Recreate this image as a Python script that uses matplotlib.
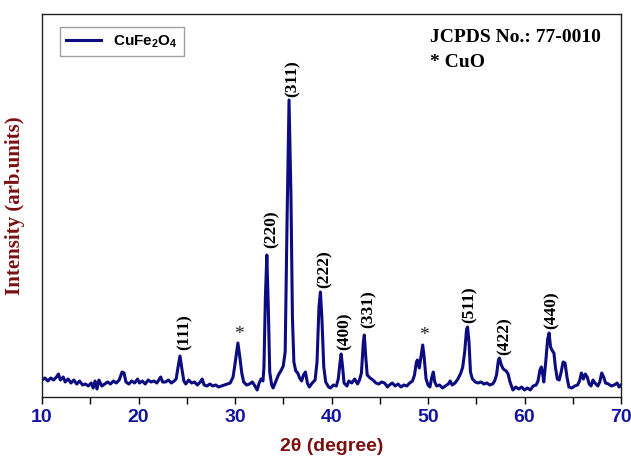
import numpy as np
import matplotlib
matplotlib.use("Agg")
import matplotlib.pyplot as plt

plt.rcParams["mathtext.fontset"] = "custom"
plt.rcParams["mathtext.bf"] = "Liberation Sans:bold"
plt.rcParams["mathtext.rm"] = "Liberation Sans:bold"

# XRD pattern (2theta in degree, intensity in arb. units)
two_theta = [
    10.0, 10.3, 10.6, 10.9, 11.2, 11.5, 11.7, 11.9, 12.2, 12.4, 12.7, 13.0, 13.3, 13.6,
    13.9, 14.2, 14.5, 14.8, 15.1, 15.3, 15.5, 15.7, 15.9, 16.2, 16.5, 16.8, 17.1, 17.4,
    17.7, 18.0, 18.3, 18.5, 18.7, 19.0, 19.3, 19.6, 19.9, 20.1, 20.4, 20.7, 21.0, 21.3,
    21.6, 21.9, 22.1, 22.3, 22.5, 22.8, 23.1, 23.4, 23.7, 23.9, 24.1, 24.3, 24.5, 24.7,
    24.9, 25.2, 25.5, 25.8, 26.1, 26.4, 26.6, 26.8, 27.1, 27.4, 27.7, 28.0, 28.3, 28.6,
    28.9, 29.2, 29.5, 29.8, 30.0, 30.3, 30.5, 30.7, 30.9, 31.2, 31.5, 31.8, 32.0, 32.3,
    32.5, 32.7, 32.9, 33.0, 33.15, 33.3, 33.45, 33.6, 33.8, 33.95, 34.2, 34.5, 34.8, 35.0,
    35.2, 35.4, 35.6, 35.8, 35.95, 36.1, 36.3, 36.5, 36.7, 36.9, 37.1, 37.3, 37.5, 37.7,
    38.0, 38.3, 38.5, 38.7, 38.85, 39.0, 39.2, 39.4, 39.7, 39.9, 40.2, 40.5, 40.7, 40.9,
    41.0, 41.15, 41.3, 41.6, 41.8, 42.1, 42.4, 42.7, 42.9, 43.1, 43.3, 43.4, 43.55, 43.7,
    44.0, 44.3, 44.6, 44.9, 45.2, 45.5, 45.8, 46.0, 46.3, 46.6, 46.9, 47.2, 47.5, 47.8,
    48.1, 48.4, 48.6, 48.8, 48.9, 49.1, 49.3, 49.45, 49.6, 49.8, 50.0, 50.2, 50.4, 50.55,
    50.7, 50.9, 51.2, 51.5, 51.8, 52.1, 52.3, 52.5, 52.8, 53.1, 53.4, 53.6, 53.8, 54.0,
    54.1, 54.25, 54.4, 54.6, 54.9, 55.2, 55.5, 55.8, 56.1, 56.4, 56.7, 56.9, 57.1, 57.3,
    57.4, 57.6, 57.8, 58.1, 58.3, 58.5, 58.8, 59.1, 59.4, 59.7, 60.0, 60.3, 60.6, 60.9,
    61.2, 61.4, 61.6, 61.75, 61.9, 62.0, 62.2, 62.4, 62.55, 62.7, 62.9, 63.05, 63.2, 63.4,
    63.6, 63.8, 64.0, 64.2, 64.4, 64.6, 64.9, 65.2, 65.5, 65.7, 65.9, 66.1, 66.3, 66.5,
    66.7, 66.9, 67.1, 67.3, 67.6, 67.8, 68.0, 68.2, 68.4, 68.7, 69.0, 69.3, 69.6, 69.8,
    70.0,
]
intensity = [
    17, 19, 16, 19, 17, 20, 23, 17, 20, 15, 18, 14, 17, 13,
    16, 12, 13, 11, 14, 9, 16, 8, 17, 11, 13, 15, 13, 16,
    14, 17, 25, 24, 15, 13, 16, 14, 18, 14, 16, 13, 17, 15,
    16, 14, 17, 20, 15, 15, 17, 14, 16, 18, 30, 41, 28, 16,
    13, 17, 14, 15, 12, 15, 18, 12, 11, 13, 11, 12, 10, 11,
    12, 13, 14, 20, 33, 54, 40, 24, 15, 12, 13, 15, 12, 7,
    14, 18, 16, 30, 100, 142, 90, 25, 12, 9, 15, 22, 27, 31,
    45, 180, 297, 200, 80, 35, 26, 24, 19, 16, 22, 25, 14, 10,
    14, 17, 35, 90, 105, 80, 30, 15, 10, 9, 12, 11, 18, 36,
    43, 30, 14, 11, 16, 14, 18, 13, 17, 24, 55, 62, 40, 22,
    19, 17, 14, 13, 15, 14, 10, 12, 14, 11, 13, 10, 12, 11,
    14, 16, 22, 35, 37, 29, 42, 52, 40, 18, 12, 10, 20, 25,
    15, 11, 12, 9, 11, 13, 16, 12, 14, 18, 24, 30, 45, 68,
    70, 55, 25, 18, 15, 14, 15, 13, 14, 12, 13, 16, 22, 37,
    39, 32, 28, 26, 23, 15, 7, 10, 8, 10, 7, 9, 7, 11,
    12, 16, 27, 30, 22, 15, 35, 58, 64, 50, 46, 44, 30, 18,
    17, 25, 35, 34, 20, 10, 9, 11, 12, 16, 24, 18, 23, 20,
    13, 11, 17, 14, 11, 15, 24, 20, 14, 13, 11, 12, 14, 10,
    12,
]

# peak labels: (2theta, height of label bottom, text)
peak_pos = [24.8, 33.8, 36.0, 39.3, 41.4, 43.8, 54.3, 57.9, 62.85]
peak_lab_y = [47, 149, 300, 109, 47, 69, 74, 42, 68]
peak_hkl = ["(111)", "(220)", "(311)", "(222)", "(400)", "(331)", "(511)", "(422)", "(440)"]
cuo_pos = [30.4, 49.6]
cuo_y = [54, 53]

line_col = "#0c0c80"
tick_col = "#1414a0"
lab_col = "#7a1010"
serif = "Liberation Serif"
sans = "Liberation Sans"

fig = plt.figure(figsize=(6.31, 4.59), dpi=100)
ax = fig.add_axes([42 / 631, 62 / 459, 579 / 631, 383 / 459])

ax.plot(two_theta, intensity, color=line_col, lw=2.2, label=r"CuFe$_\mathbf{2}$O$_\mathbf{4}$")

for xp, yp, t in zip(peak_pos, peak_lab_y, peak_hkl):
    ax.text(xp, yp, t, rotation=90, ha="center", va="bottom",
            family=serif, fontweight="bold", fontsize=12.5, color="black")
for xp, yp in zip(cuo_pos, cuo_y):
    ax.text(xp, yp, "*", ha="center", va="bottom", family=serif,
            fontsize=14, color="#222222")

ax.text(0.67, 0.927, "JCPDS No.: 77-0010", transform=ax.transAxes,
        family=serif, fontweight="bold", fontsize=14, va="baseline")
ax.text(0.67, 0.862, "* CuO", transform=ax.transAxes,
        family=serif, fontweight="bold", fontsize=14, va="baseline")

ax.set_xlim(10, 70)
ax.set_ylim(0, 383)
ax.set_xticks([10, 20, 30, 40, 50, 60, 70])
ax.set_xticks([15, 25, 35, 45, 55, 65], minor=True)
ax.set_yticks([])
ax.tick_params(axis="x", which="both", direction="out", length=5, width=1, pad=4)
for lbl in ax.get_xticklabels():
    lbl.set_family(sans)
    lbl.set_fontweight("bold")
    lbl.set_fontsize(14)
    lbl.set_color(tick_col)

for s in ax.spines.values():
    s.set_linewidth(1.0)
    s.set_color("#222222")

ax.set_xlabel("2θ (degree)", family=sans, fontweight="bold", fontsize=14,
              color=lab_col, labelpad=8)
ax.set_ylabel("Intensity (arb.units)", family=serif, fontweight="bold",
              fontsize=15, color=lab_col, labelpad=12)

leg = ax.legend(loc="upper left", bbox_to_anchor=(0.031, 0.966), borderaxespad=0,
                fancybox=False, edgecolor="#888888", handlelength=2.3,
                prop={"family": sans, "weight": "bold", "size": 11})
leg.get_frame().set_linewidth(1.0)

fig.savefig("out.png", dpi=100)
